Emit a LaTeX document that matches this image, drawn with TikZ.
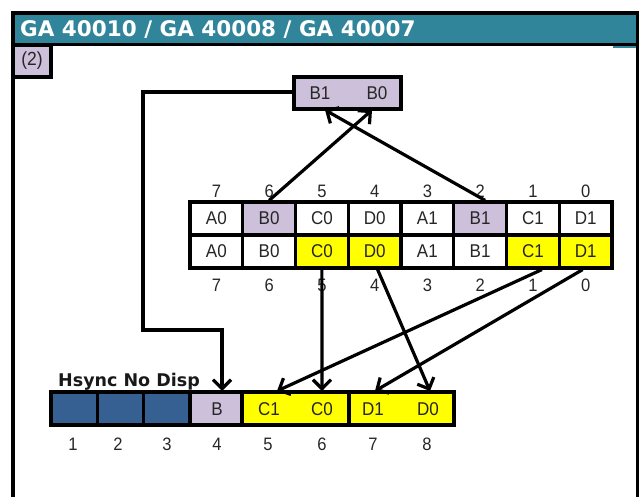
\documentclass[tikz,border=0pt]{standalone}
\usepackage{fontspec}
\setmainfont{Liberation Sans}
\newfontfamily\bodyfont[FakeStretch=0.92]{Liberation Sans}
\newfontfamily\titlefont{DejaVu Sans}
\usetikzlibrary{arrows.meta,calc}
\definecolor{tealbar}{RGB}{49,133,155}
\definecolor{lilac}{RGB}{204,192,218}
\definecolor{navyc}{RGB}{55,96,146}
\definecolor{yel}{RGB}{255,255,0}
\begin{document}
\begin{tikzpicture}[x=1pt,y=-1pt,
  bord/.style={draw=black,line width=3.2pt},
  cellbox/.style={bord,minimum width=52.75pt,minimum height=33pt,inner sep=0pt,fill=white},
  celltxt/.style={font=\bodyfont\fontsize{18.5}{18}\selectfont,text=black!85,text height=13pt,text depth=0pt},
  numtxt/.style={font=\bodyfont\fontsize{18}{18}\selectfont,text=black!85,inner sep=0pt,text height=12.5pt,text depth=0pt},
  arr/.style={line width=3.2pt,-{Straight Barb[length=9pt,width=18pt,line width=3.2pt]}},
  pathline/.style={line width=3.2pt}]
\useasboundingbox (0,0) rectangle (640,497);
\clip (0,0) rectangle (640,497);
% frame and title
\fill[tealbar] (13,13) rectangle (637.5,44.5);
\draw[line width=3.2pt] (13,497) -- (13,13) -- (637.5,13) -- (637.5,497);
\draw[line width=3.2pt] (13,44.5) -- (637.5,44.5);
\draw[tealbar,line width=1.5pt] (613,46.8) -- (636,46.8);
\node[anchor=base west,inner sep=0pt,text=white,font=\titlefont\bfseries\fontsize{21.5}{22}\selectfont] (title) at (20,37) {GA 40010 / GA 40008 / GA 40007};
\node[bord,fill=lilac,minimum width=38pt,minimum height=32pt,inner sep=0pt,font=\bodyfont\fontsize{19}{18}\selectfont,text=black!85] (tag) at (32,61) {(2)};
% top box
\node[bord,fill=lilac,minimum width=107pt,minimum height=32pt,inner sep=0pt] (topbox) at (347.5,93) {};
\node[celltxt] (tB1) at (320,93) {B1};
\node[celltxt] (tB0) at (377,93) {B0};
% table
\foreach \i/\t/\f in {1/A0/white,2/B0/lilac,3/C0/white,4/D0/white,5/A1/white,6/B1/lilac,7/C1/white,8/D1/white}{
  \node[cellbox,fill=\f,celltxt] (r1c\i) at ({190+52.75*(\i-0.5)},218.5) {\t};
}
\foreach \i/\t/\f in {1/A0/white,2/B0/white,3/C0/yel,4/D0/yel,5/A1/white,6/B1/white,7/C1/yel,8/D1/yel}{
  \node[cellbox,fill=\f,celltxt] (r2c\i) at ({190+52.75*(\i-0.5)},251.5) {\t};
}
\foreach \i/\n in {1/7,2/6,3/5,4/4,5/3,6/2,7/1,8/0}{
  \node[numtxt] (tn\i) at ({190+52.75*(\i-0.5)},191) {\n};
  \node[numtxt] (bn\i) at ({190+52.75*(\i-0.5)},285) {\n};
}
% bottom row
\node[anchor=base west,inner sep=0pt,text=black!90,font=\titlefont\bfseries\fontsize{17.5}{18}\selectfont] (hs) at (58,386) {Hsync No Disp};
\foreach \i/\x in {1/74.2,2/120.5,3/166.8}{
  \node[bord,fill=navyc,minimum width=46.33pt,minimum height=33pt,inner sep=0pt] (n\i) at (\x,408.5) {};
}
\node[bord,fill=lilac,minimum width=52pt,minimum height=33pt,inner sep=0pt] (bB) at (216,408.5) {};
\node[bord,fill=yel,minimum width=107pt,minimum height=33pt,inner sep=0pt] (bC) at (295.5,408.5) {};
\node[bord,fill=yel,minimum width=105pt,minimum height=33pt,inner sep=0pt] (bD) at (401.5,408.5) {};
\node[celltxt] (lB) at (217,408.5) {B};
\node[celltxt] (lC1) at (269,408.5) {C1};
\node[celltxt] (lC0) at (322,408.5) {C0};
\node[celltxt] (lD1) at (373,408.5) {D1};
\node[celltxt] (lD0) at (428,408.5) {D0};
\foreach \i/\x in {1/73,2/118,3/167,4/217,5/268,6/322,7/373,8/427}{
  \node[numtxt] (pn\i) at (\x,444) {\i};
}
% connectors
\coordinate (k1) at (143,92);
\coordinate (k2) at (143,330);
\coordinate (k3) at (222,330);
\coordinate (bBin) at (222,391);
\draw[pathline,-{Straight Barb[length=9pt,width=18pt,line width=3.2pt]}] (topbox.west |- k1) -- (k1) -- (k2) -- (k3) -- (bBin);
\coordinate (inB0) at (372,110);
\coordinate (inB1) at (325,110);
\draw[arr] (r1c2.north) -- (inB0);
\draw[arr] ([xshift=5pt]r1c6.north) -- (inB1);
\coordinate (inC0) at (322,391);
\coordinate (inD0) at (430,391);
\coordinate (inC1) at (277,391);
\coordinate (inD1) at (375,391);
\draw[arr] (r2c3.south) -- (inC0);
\draw[arr] ([xshift=3pt]r2c4.south) -- (inD0);
\draw[arr] ([xshift=9pt]r2c7.south) -- (inC1);
\draw[arr] ([xshift=-3pt]r2c8.south) -- (inD1);
\end{tikzpicture}
\end{document}
